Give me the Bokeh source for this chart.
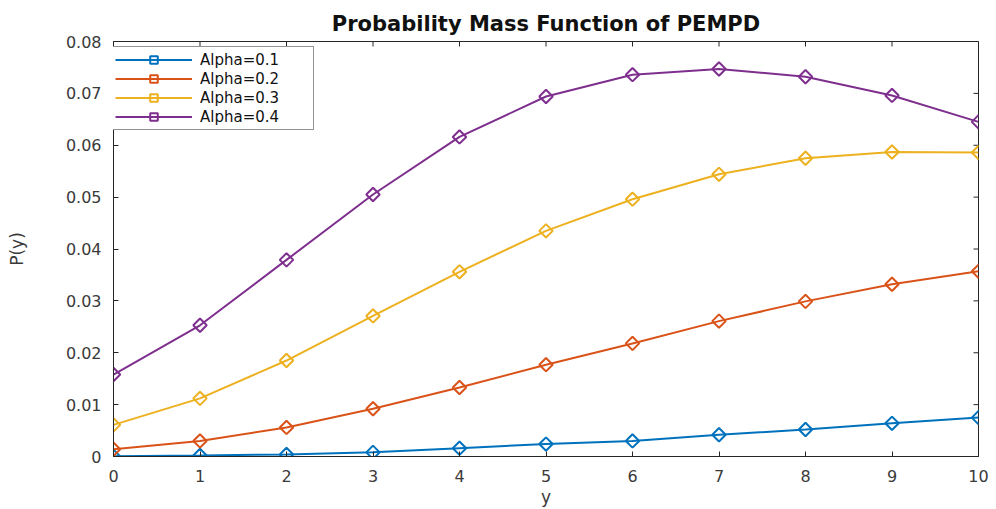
import numpy as np
from bokeh.plotting import figure
from bokeh.models import Range1d, FixedTicker, CustomJSTickFormatter, Legend, LegendItem
from bokeh.embed import file_html
from bokeh.resources import INLINE

y_vals = [0, 1, 2, 3, 4, 5, 6, 7, 8, 9, 10]
alpha_01 = [0.00003, 0.0002, 0.0004, 0.0008, 0.0016, 0.0024, 0.0030, 0.0042, 0.0052, 0.0064, 0.0075]
alpha_02 = [0.0014, 0.0030, 0.0056, 0.0092, 0.0133, 0.0177, 0.0218, 0.0261, 0.0299, 0.0332, 0.0357]
alpha_03 = [0.0061, 0.0112, 0.0185, 0.0271, 0.0356, 0.0435, 0.0496, 0.0544, 0.0575, 0.0587, 0.0586]
alpha_04 = [0.0158, 0.0253, 0.0379, 0.0505, 0.0616, 0.0694, 0.0736, 0.0747, 0.0732, 0.0696, 0.0645]
labels = ["Alpha=0.1", "Alpha=0.2", "Alpha=0.3", "Alpha=0.4"]
colors = ["#0072BD", "#D95319", "#EDB120", "#7E2F8E"]
x_ticks = [0, 1, 2, 3, 4, 5, 6, 7, 8, 9, 10]
y_ticks = [0, 0.01, 0.02, 0.03, 0.04, 0.05, 0.06, 0.07, 0.08]
x_min, x_max = 0, 10
y_min, y_max = 0, 0.08

FONT = "DejaVu Sans"
AX = "#262626"
TXT = "#3a3a3a"

p = figure(width=996, height=509, output_backend="svg", toolbar_location=None,
           x_range=Range1d(x_min, x_max), y_range=Range1d(y_min, y_max),
           min_border_left=113, min_border_right=18, min_border_top=41, min_border_bottom=53,
           title="Probability Mass Function of PEMPD")
p.background_fill_color = "white"
p.border_fill_color = "white"
p.grid.visible = False
p.outline_line_color = AX
p.outline_line_width = 1

p.title.align = "center"
p.title.text_font = FONT
p.title.text_font_size = "21px"
p.title.text_font_style = "bold"
p.title.text_color = "#111111"
p.title.standoff = 12

fmt = CustomJSTickFormatter(code="return tick == 0 ? '0' : tick.toFixed(2);")

def style_axis(ax):
    ax.major_tick_in = 5
    ax.major_tick_out = 0
    ax.minor_tick_line_color = None
    ax.axis_line_color = AX
    ax.major_tick_line_color = AX
    ax.major_label_text_font = FONT
    ax.major_label_text_color = TXT
    ax.major_label_text_font_size = "16px"
    ax.axis_label_text_font = FONT
    ax.axis_label_text_font_style = "normal"
    ax.axis_label_text_color = TXT
    ax.axis_label_text_font_size = "17px"

xa = p.xaxis[0]
xa.ticker = FixedTicker(ticks=x_ticks)
style_axis(xa)
xa.major_label_standoff = 13
xa.axis_label = "y"
xa.axis_label_standoff = 2

ya = p.yaxis[0]
ya.ticker = FixedTicker(ticks=y_ticks)
ya.formatter = fmt
style_axis(ya)
ya.major_label_standoff = 12
ya.axis_label = "P(y)"
ya.axis_label_standoff = 36

# inward ticks on top and right edges of the box
p.ray(x=x_ticks, y=[y_max] * len(x_ticks), length=5, length_units="screen",
      angle=-np.pi / 2, line_color=AX, line_width=1)
p.ray(x=[x_max] * len(y_ticks), y=y_ticks, length=5, length_units="screen",
      angle=np.pi, line_color=AX, line_width=1)

items = []
for vals, lab, col in zip([alpha_01, alpha_02, alpha_03, alpha_04], labels, colors):
    l = p.line(y_vals, vals, line_color=col, line_width=2)
    s = p.scatter(y_vals, vals, marker="square", angle=np.pi / 4, size=9.5,
                  line_color=col, line_width=2, fill_color=None)
    items.append(LegendItem(label=lab, renderers=[l, s]))

leg = Legend(items=items, location=(-2, 326))
leg.glyph_width = 77
leg.glyph_height = 19
leg.label_height = 19
leg.label_width = 110
leg.spacing = 0
leg.padding = 3
leg.margin = 0
leg.label_standoff = 8
leg.label_text_font = FONT
leg.label_text_font_size = "15px"
leg.label_text_color = "#111111"
leg.border_line_color = AX
leg.border_line_width = 1
leg.background_fill_color = "white"
leg.background_fill_alpha = 1
p.add_layout(leg, "center")

open("out.html", "w").write(file_html(p, INLINE))
